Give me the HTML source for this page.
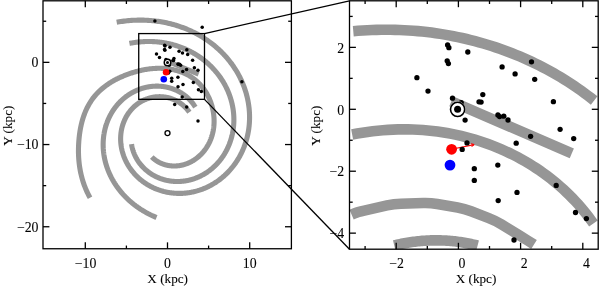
<!DOCTYPE html>
<html><head><meta charset="utf-8"><title>Spiral arms</title>
<style>html,body{margin:0;padding:0;background:#fff}svg{display:block}</style></head>
<body>
<svg width="600" height="286" viewBox="0 0 600 286">
<rect width="600" height="286" fill="#fff"/>
<defs><clipPath id="cl"><rect x="43.00" y="0.80" width="248.40" height="247.95"/></clipPath>
<clipPath id="cr"><rect x="349.50" y="0.80" width="248.70" height="248.40"/></clipPath></defs>
<g clip-path="url(#cl)" fill="none" stroke="#969696" stroke-width="5.10">
<path d="M131.54 144.18 L131.54 144.18 L131.59 144.49 L131.64 144.79 L131.69 145.10 L131.74 145.40 L131.80 145.71 L131.86 146.01 L131.92 146.32 L131.98 146.62 L132.05 146.93 L132.12 147.23 L132.19 147.54 L132.26 147.84 L132.34 148.15 L132.42 148.45 L132.50 148.76 L132.58 149.06 L132.67 149.37 L132.76 149.67 L132.85 149.97 L132.94 150.28 L133.04 150.58 L133.13 150.88 L133.23 151.19 L133.34 151.49 L133.44 151.79 L133.55 152.09 L133.66 152.39 L133.77 152.69 L133.89 152.99 L134.01 153.29 L134.13 153.59 L134.25 153.89 L134.38 154.19 L134.50 154.49 L134.64 154.79 L134.77 155.08 L134.90 155.38 L135.04 155.67 L135.18 155.97 L135.32 156.26 L135.47 156.56 L135.62 156.85 L135.77 157.14 L135.92 157.44 L136.08 157.73 L136.24 158.02 L136.40 158.31 L136.56 158.60 L136.72 158.88 L136.89 159.17 L137.06 159.46 L137.24 159.74 L137.41 160.03 L137.59 160.31 L137.77 160.59 L137.95 160.87 L138.14 161.15 L138.32 161.43 L138.51 161.71 L138.71 161.99 L138.90 162.27 L139.10 162.54 L139.30 162.82 L139.50 163.09 L139.71 163.36 L139.92 163.63 L140.13 163.90 L140.34 164.17 L140.55 164.44 L140.77 164.70 L140.99 164.97 L141.21 165.23 L141.44 165.49 L141.66 165.75 L141.89 166.01 L142.12 166.27 L142.36 166.53 L142.59 166.78 L142.83 167.04 L143.07 167.29 L143.32 167.54 L143.56 167.79 L143.81 168.04 L144.06 168.28 L144.32 168.53 L144.57 168.77 L144.83 169.01 L145.09 169.25 L145.35 169.49 L145.62 169.72 L145.88 169.96 L146.15 170.19 L146.42 170.42 L146.70 170.65 L146.97 170.88 L147.25 171.10 L147.53 171.33 L147.81 171.55 L148.10 171.77 L148.38 171.99 L148.67 172.20 L148.97 172.42 L149.26 172.63 L149.55 172.84 L149.85 173.05 L150.15 173.26 L150.45 173.46 L150.76 173.66 L151.06 173.86 L151.37 174.06 L151.68 174.26 L152.00 174.45 L152.31 174.64 L152.63 174.83 L152.94 175.02 L153.27 175.20 L153.59 175.38 L153.91 175.56 L154.24 175.74 L154.57 175.92 L154.90 176.09 L155.23 176.26 L155.56 176.43 L155.90 176.60 L156.24 176.76 L156.58 176.92 L156.92 177.08 L157.26 177.24 L157.61 177.39 L157.95 177.54 L158.30 177.69 L158.65 177.84 L159.00 177.98 L159.36 178.12 L159.71 178.26 L160.07 178.40 L160.43 178.53 L160.79 178.66 L161.15 178.79 L161.52 178.92 L161.88 179.04 L162.25 179.16 L162.62 179.27 L162.99 179.39 L163.36 179.50 L163.73 179.61 L164.11 179.71 L164.48 179.82 L164.86 179.92 L165.24 180.01 L165.62 180.11 L166.00 180.20 L166.38 180.29 L166.77 180.37 L167.15 180.46 L167.54 180.54 L167.93 180.61 L168.32 180.69 L168.71 180.76 L169.10 180.82 L169.49 180.89 L169.89 180.95 L170.28 181.01 L170.68 181.06 L171.07 181.11 L171.47 181.16 L171.87 181.21 L172.27 181.25 L172.67 181.29 L173.07 181.33 L173.48 181.36 L173.88 181.39 L174.29 181.42 L174.69 181.44 L175.10 181.46 L175.51 181.48 L175.91 181.49 L176.32 181.50 L176.73 181.51 L177.14 181.51 L177.55 181.51 L177.97 181.51 L178.38 181.50 L178.79 181.49 L179.20 181.48 L179.62 181.46 L180.03 181.44 L180.45 181.42 L180.86 181.39 L181.28 181.36 L181.69 181.32 L182.11 181.29 L182.53 181.25 L182.94 181.20 L183.36 181.15 L183.78 181.10 L184.20 181.05 L184.61 180.99 L185.03 180.93 L185.45 180.86 L185.87 180.79 L186.29 180.72 L186.71 180.65 L187.12 180.57 L187.54 180.48 L187.96 180.40 L188.38 180.31 L188.80 180.21 L189.21 180.12 L189.63 180.01 L190.05 179.91 L190.47 179.80 L190.88 179.69 L191.30 179.58 L191.72 179.46 L192.13 179.33 L192.55 179.21 L192.97 179.08 L193.38 178.95 L193.79 178.81 L194.21 178.67 L194.62 178.52 L195.03 178.38 L195.45 178.23 L195.86 178.07 L196.27 177.91 L196.68 177.75 L197.09 177.59 L197.50 177.42 L197.91 177.24 L198.31 177.07 L198.72 176.89 L199.13 176.70 L199.53 176.52 L199.93 176.33 L200.34 176.13 L200.74 175.93 L201.14 175.73 L201.54 175.53 L201.94 175.32 L202.34 175.11 L202.73 174.89 L203.13 174.67 L203.52 174.45 L203.91 174.22 L204.31 173.99 L204.70 173.76 L205.08 173.52 L205.47 173.28 L205.86 173.04 L206.24 172.79 L206.63 172.54 L207.01 172.29 L207.39 172.03 L207.77 171.77 L208.14 171.51 L208.52 171.24 L208.89 170.97 L209.27 170.69 L209.64 170.41 L210.01 170.13 L210.37 169.85 L210.74 169.56 L211.10 169.26 L211.46 168.97 L211.82 168.67 L212.18 168.37 L212.54 168.06 L212.89 167.75 L213.24 167.44 L213.59 167.13 L213.94 166.81 L214.29 166.49 L214.63 166.16 L214.97 165.83 L215.31 165.50 L215.65 165.17 L215.99 164.83 L216.32 164.49 L216.65 164.14 L216.98 163.79 L217.30 163.44 L217.63 163.09 L217.95 162.73 L218.27 162.37 L218.58 162.01 L218.90 161.64 L219.21 161.27 L219.52 160.90 L219.82 160.52 L220.13 160.15 L220.43 159.76 L220.73 159.38 L221.02 158.99 L221.32 158.60 L221.61 158.21 L221.90 157.81 L222.18 157.41 L222.46 157.01 L222.74 156.60 L223.02 156.20 L223.29 155.79 L223.56 155.37 L223.83 154.96 L224.09 154.54 L224.36 154.12 L224.61 153.69 L224.87 153.26 L225.12 152.83 L225.37 152.40 L225.62 151.97 L225.86 151.53 L226.10 151.09 L226.34 150.64 L226.57 150.20 L226.80 149.75 L227.03 149.30 L227.25 148.85 L227.47 148.39 L227.69 147.93 L227.91 147.47 L228.12 147.01 L228.32 146.55 L228.53 146.08 L228.73 145.61 L228.92 145.14 L229.12 144.66 L229.31 144.19 L229.49 143.71 L229.67 143.23 L229.85 142.74 L230.03 142.26 L230.20 141.77 L230.37 141.28 L230.53 140.79 L230.69 140.30 L230.85 139.80 L231.00 139.30 L231.15 138.80 L231.30 138.30 L231.44 137.80 L231.58 137.29 L231.71 136.79 L231.85 136.28 L231.97 135.77 L232.09 135.26 L232.21 134.74 L232.33 134.23 L232.44 133.71 L232.55 133.19 L232.65 132.67 L232.75 132.15 L232.84 131.62 L232.93 131.10 L233.02 130.57 L233.10 130.04 L233.18 129.51 L233.26 128.98 L233.33 128.45 L233.39 127.91 L233.46 127.38 L233.51 126.84 L233.57 126.30 L233.62 125.76 L233.66 125.22 L233.70 124.68 L233.74 124.14 L233.77 123.60 L233.80 123.05 L233.83 122.51 L233.85 121.96 L233.86 121.41 L233.87 120.86 L233.88 120.31 L233.88 119.76 L233.88 119.21 L233.87 118.66 L233.86 118.11 L233.85 117.55 L233.83 117.00 L233.80 116.44 L233.78 115.89 L233.74 115.33 L233.71 114.78 L233.66 114.22 L233.62 113.66 L233.57 113.10 L233.51 112.54 L233.45 111.98 L233.39 111.42 L233.32 110.86 L233.25 110.30 L233.17 109.74 L233.09 109.18 L233.00 108.62 L232.91 108.06 L232.81 107.50 L232.71 106.94 L232.61 106.38 L232.50 105.81 L232.38 105.25 L232.26 104.69 L232.14 104.13 L232.01 103.57 L231.88 103.01 L231.74 102.45 L231.60 101.89 L231.45 101.33 L231.30 100.77 L231.14 100.21 L230.98 99.65 L230.82 99.09 L230.65 98.53 L230.47 97.97 L230.29 97.42 L230.11 96.86 L229.92 96.30 L229.72 95.75 L229.53 95.19 L229.32 94.64 L229.12 94.08 L228.90 93.53 L228.69 92.98 L228.46 92.43 L228.24 91.88 L228.01 91.33 L227.77 90.78 L227.53 90.23 L227.28 89.69 L227.03 89.14 L226.78 88.60 L226.52 88.06 L226.26 87.51 L225.99 86.97 L225.71 86.44 L225.44 85.90 L225.15 85.36 L224.86 84.83 L224.57 84.29 L224.28 83.76 L223.97 83.23 L223.67 82.70 L223.36 82.18 L223.04 81.65 L222.72 81.13 L222.40 80.60 L222.07 80.08 L221.73 79.56 L221.39 79.05 L221.05 78.53 L220.70 78.02 L220.35 77.51 L219.99 77.00 L219.63 76.49 L219.26 75.99 L218.89 75.48 L218.52 74.98 L218.14 74.49 L217.75 73.99 L217.36 73.49 L216.97 73.00 L216.57 72.51 L216.17 72.03 L215.76 71.54 L215.35 71.06 L214.93 70.58 L214.51 70.10 L214.09 69.63 L213.66 69.16 L213.22 68.69 L212.78 68.22 L212.34 67.76 L211.89 67.30 L211.44 66.84 L210.99 66.38 L210.52 65.93 L210.06 65.48 L209.59 65.03 L209.12 64.59 L208.64 64.15 L208.16 63.71 L207.67 63.28 L207.18 62.85 L206.69 62.42 L206.19 61.99 L205.69 61.57 L205.18 61.16 L204.67 60.74 L204.15 60.33 L203.63 59.92 L203.11 59.52 L202.58 59.12 L202.05 58.72 L201.52 58.32 L200.98 57.93 L200.43 57.55 L199.89 57.17 L199.34 56.79 L198.78 56.41 L198.22 56.04 L197.66 55.67 L197.09 55.31 L196.52 54.95 L195.95 54.59 L195.37 54.24 L194.79 53.89 L194.20 53.55 L193.61 53.21 L193.02 52.87 L192.42 52.54 L191.82 52.21 L191.22 51.89 L190.61 51.57 L190.00 51.26 L189.39 50.95 L188.77 50.64 L188.15 50.34 L187.53 50.04 L186.90 49.75 L186.27 49.46 L185.63 49.18 L184.99 48.90 L184.35 48.63 L183.71 48.36 L183.06 48.09 L182.41 47.83 L181.76 47.58 L181.10 47.33 L180.44 47.08 L179.78 46.84 L179.11 46.61 L178.44 46.37 L177.77 46.15 L177.10 45.93 L176.42 45.71 L175.74 45.50 L175.06 45.29 L174.37 45.09 L173.68 44.90 L172.99 44.71 L172.30 44.52 L171.60 44.34 L170.90 44.17 L170.20 44.00 L169.50 43.83 L168.79 43.67 L168.08 43.52 L167.37 43.37 L166.66 43.23 L165.94 43.09 L165.22 42.96 L164.50 42.83 L163.78 42.71 L163.06 42.59 L162.33 42.49 L161.60 42.38 L160.87 42.28 L160.14 42.19 L159.40 42.10 L158.67 42.02 L157.93 41.94 L157.19 41.87 L156.44 41.81 L155.70 41.75 L154.95 41.70 L154.21 41.65 L153.46 41.61 L152.71 41.58 L151.96 41.55 L151.20 41.52 L150.45 41.51 L149.69 41.50 L148.93 41.49 L148.18 41.49 L147.42 41.50 L146.65 41.51 L145.89 41.53 L145.13 41.56 L144.36 41.59 L143.60 41.62 L142.83 41.67 L142.06 41.72 L141.30 41.77 L140.53 41.84 L139.76 41.90 L138.99 41.98 L138.21 42.06 L137.44 42.15 L136.67 42.24 L135.90 42.34 L135.12 42.45 L134.35 42.56 L133.58 42.68 L132.80 42.80 L132.03 42.93 L131.25 43.07 L130.48 43.22 L129.70 43.37 L129.44 43.42"/>
<path d="M189.32 112.16 L189.32 112.16 L189.10 111.85 L188.88 111.54 L188.66 111.24 L188.43 110.93 L188.20 110.63 L187.96 110.33 L187.72 110.04 L187.48 109.74 L187.23 109.45 L186.98 109.15 L186.72 108.86 L186.47 108.58 L186.20 108.29 L185.94 108.01 L185.67 107.73 L185.40 107.45 L185.12 107.17 L184.84 106.90 L184.56 106.63 L184.27 106.36 L183.98 106.09 L183.69 105.82 L183.39 105.56 L183.09 105.30 L182.78 105.05 L182.47 104.79 L182.16 104.54 L181.84 104.29 L181.52 104.05 L181.20 103.80 L180.87 103.57 L180.54 103.33 L180.21 103.10 L179.87 102.87 L179.53 102.64 L179.19 102.41 L178.84 102.19 L178.49 101.98 L178.13 101.76 L177.77 101.55 L177.41 101.35 L177.05 101.14 L176.68 100.95 L176.31 100.75 L175.93 100.56 L175.55 100.37 L175.17 100.19 L174.79 100.01 L174.40 99.83 L174.01 99.66 L173.61 99.49 L173.22 99.33 L172.82 99.17 L172.41 99.01 L172.01 98.86 L171.60 98.72 L171.18 98.58 L170.77 98.44 L170.35 98.31 L169.93 98.18 L169.51 98.06 L169.08 97.94 L168.65 97.83 L168.22 97.72 L167.79 97.61 L167.35 97.52 L166.91 97.42 L166.47 97.33 L166.03 97.25 L165.58 97.17 L165.13 97.10 L164.68 97.03 L164.23 96.97 L163.77 96.92 L163.32 96.87 L162.86 96.82 L162.40 96.78 L161.94 96.75 L161.47 96.72 L161.01 96.70 L160.54 96.68 L160.07 96.67 L159.60 96.67 L159.13 96.67 L158.66 96.68 L158.19 96.69 L157.71 96.71 L157.24 96.74 L156.76 96.77 L156.29 96.81 L155.81 96.86 L155.33 96.91 L154.85 96.97 L154.37 97.03 L153.89 97.10 L153.41 97.18 L152.93 97.26 L152.45 97.35 L151.97 97.45 L151.49 97.56 L151.01 97.67 L150.53 97.78 L150.05 97.91 L149.57 98.04 L149.09 98.17 L148.61 98.32 L148.13 98.47 L147.66 98.63 L147.18 98.79 L146.71 98.96 L146.23 99.14 L145.76 99.33 L145.29 99.52 L144.82 99.72 L144.36 99.92 L143.89 100.13 L143.43 100.35 L142.97 100.58 L142.51 100.81 L142.05 101.05 L141.60 101.30 L141.14 101.55 L140.69 101.81 L140.25 102.08 L139.80 102.36 L139.36 102.64 L138.93 102.93 L138.49 103.22 L138.06 103.52 L137.63 103.83 L137.21 104.14 L136.78 104.46 L136.37 104.79 L135.95 105.12 L135.54 105.46 L135.13 105.81 L134.73 106.16 L134.33 106.52 L133.94 106.88 L133.55 107.26 L133.16 107.63 L132.78 108.01 L132.40 108.40 L132.03 108.80 L131.66 109.20 L131.30 109.60 L130.94 110.02 L130.59 110.43 L130.24 110.86 L129.90 111.28 L129.56 111.72 L129.23 112.16 L128.90 112.60 L128.58 113.05 L128.26 113.51 L127.95 113.97 L127.65 114.43 L127.35 114.90 L127.05 115.37 L126.76 115.85 L126.48 116.34 L126.21 116.83 L125.94 117.32 L125.67 117.82 L125.41 118.32 L125.16 118.82 L124.92 119.33 L124.68 119.85 L124.44 120.37 L124.22 120.89 L124.00 121.42 L123.78 121.95 L123.58 122.48 L123.38 123.02 L123.18 123.56 L123.00 124.10 L122.81 124.65 L122.64 125.20 L122.47 125.75 L122.32 126.31 L122.16 126.87 L122.02 127.43 L121.88 128.00 L121.75 128.57 L121.62 129.14 L121.51 129.71 L121.40 130.29 L121.29 130.87 L121.20 131.45 L121.11 132.03 L121.03 132.62 L120.95 133.21 L120.89 133.80 L120.83 134.39 L120.78 134.98 L120.73 135.57 L120.70 136.17 L120.67 136.77 L120.64 137.37 L120.63 137.97 L120.62 138.57 L120.62 139.17 L120.63 139.77 L120.65 140.38 L120.67 140.98 L120.70 141.59 L120.74 142.20 L120.79 142.80 L120.84 143.41 L120.91 144.02 L120.98 144.63 L121.05 145.23 L121.14 145.84 L121.23 146.45 L121.33 147.06 L121.44 147.67 L121.55 148.28 L121.68 148.88 L121.81 149.49 L121.95 150.10 L122.09 150.70 L122.25 151.31 L122.41 151.91 L122.58 152.52 L122.75 153.12 L122.94 153.72 L123.13 154.32 L123.33 154.92 L123.54 155.52 L123.75 156.12 L123.98 156.71 L124.21 157.31 L124.45 157.90 L124.69 158.49 L124.94 159.08 L125.20 159.67 L125.47 160.25 L125.75 160.83 L126.03 161.41 L126.32 161.99 L126.62 162.57 L126.93 163.14 L127.24 163.71 L127.56 164.28 L127.89 164.85 L128.22 165.41 L128.57 165.97 L128.92 166.53 L129.27 167.08 L129.64 167.63 L130.01 168.18 L130.39 168.73 L130.78 169.27 L131.17 169.81 L131.57 170.34 L131.98 170.87 L132.40 171.40 L132.82 171.92 L133.25 172.44 L133.69 172.96 L134.13 173.47 L134.58 173.97 L135.04 174.48 L135.51 174.97 L135.98 175.47 L136.46 175.96 L136.95 176.44 L137.44 176.92 L137.94 177.39 L138.45 177.86 L138.97 178.33 L139.49 178.79 L140.01 179.24 L140.55 179.69 L141.09 180.13 L141.64 180.57 L142.19 181.00 L142.75 181.43 L143.32 181.85 L143.89 182.26 L144.47 182.67 L145.06 183.07 L145.65 183.46 L146.25 183.85 L146.86 184.24 L147.47 184.61 L148.09 184.98 L148.71 185.35 L149.34 185.70 L149.97 186.05 L150.61 186.39 L151.26 186.73 L151.91 187.06 L152.57 187.38 L153.23 187.69 L153.90 188.00 L154.57 188.30 L155.25 188.59 L155.94 188.87 L156.62 189.15 L157.32 189.41 L158.02 189.67 L158.72 189.93 L159.43 190.17 L160.14 190.40 L160.86 190.63 L161.58 190.85 L162.31 191.06 L163.04 191.26 L163.78 191.46 L164.52 191.64 L165.26 191.82 L166.01 191.98 L166.76 192.14 L167.51 192.29 L168.27 192.43 L169.03 192.56 L169.80 192.68 L170.57 192.80 L171.34 192.90 L172.12 192.99 L172.90 193.08 L173.68 193.15 L174.46 193.22 L175.25 193.27 L176.04 193.32 L176.83 193.35 L177.62 193.38 L178.42 193.40 L179.22 193.40 L180.02 193.40 L180.82 193.38 L181.62 193.36 L182.43 193.33 L183.24 193.28 L184.05 193.23 L184.85 193.16 L185.67 193.09 L186.48 193.00 L187.29 192.90 L188.10 192.80 L188.92 192.68 L189.73 192.55 L190.54 192.41 L191.36 192.26 L192.17 192.10 L192.99 191.93 L193.80 191.75 L194.62 191.56 L195.43 191.36 L196.24 191.14 L197.05 190.92 L197.86 190.68 L198.67 190.43 L199.48 190.18 L200.29 189.91 L201.09 189.63 L201.90 189.34 L202.70 189.04 L203.50 188.73 L204.30 188.40 L205.09 188.07 L205.88 187.72 L206.68 187.37 L207.46 187.00 L208.25 186.62 L209.03 186.24 L209.81 185.84 L210.58 185.43 L211.35 185.00 L212.12 184.57 L212.89 184.13 L213.65 183.68 L214.40 183.21 L215.15 182.74 L215.90 182.25 L216.64 181.75 L217.38 181.25 L218.12 180.73 L218.84 180.20 L219.57 179.66 L220.29 179.11 L221.00 178.55 L221.71 177.98 L222.41 177.40 L223.10 176.81 L223.79 176.21 L224.48 175.60 L225.15 174.98 L225.82 174.35 L226.49 173.71 L227.15 173.06 L227.80 172.40 L228.44 171.73 L229.08 171.05 L229.71 170.36 L230.33 169.66 L230.95 168.95 L231.55 168.23 L232.15 167.50 L232.74 166.76 L233.33 166.02 L233.90 165.26 L234.47 164.50 L235.03 163.73 L235.58 162.94 L236.12 162.15 L236.65 161.35 L237.17 160.55 L237.69 159.73 L238.19 158.90 L238.69 158.07 L239.17 157.23 L239.65 156.38 L240.12 155.52 L240.57 154.66 L241.02 153.79 L241.46 152.91 L241.88 152.02 L242.30 151.12 L242.70 150.22 L243.10 149.31 L243.48 148.39 L243.86 147.47 L244.22 146.54 L244.57 145.60 L244.91 144.66 L245.24 143.71 L245.56 142.75 L245.87 141.79 L246.16 140.82 L246.45 139.85 L246.72 138.87 L246.98 137.88 L247.23 136.89 L247.46 135.90 L247.69 134.89 L247.90 133.89 L248.10 132.87 L248.28 131.86 L248.46 130.84 L248.62 129.81 L248.77 128.78 L248.91 127.75 L249.03 126.71 L249.14 125.67 L249.24 124.62 L249.33 123.57 L249.40 122.52 L249.46 121.47 L249.50 120.41 L249.54 119.34 L249.56 118.28 L249.56 117.21 L249.55 116.14 L249.53 115.07 L249.50 114.00 L249.45 112.92 L249.39 111.84 L249.31 110.76 L249.22 109.68 L249.12 108.60 L249.00 107.52 L248.87 106.43 L248.73 105.35 L248.57 104.26 L248.39 103.18 L248.21 102.09 L248.00 101.01 L247.79 99.92 L247.56 98.83 L247.31 97.75 L247.06 96.66 L246.78 95.58 L246.50 94.50 L246.20 93.42 L245.88 92.34 L245.55 91.26 L245.21 90.18 L244.85 89.11 L244.48 88.03 L244.09 86.96 L243.69 85.90 L243.27 84.83 L242.84 83.77 L242.40 82.71 L241.94 81.65 L241.47 80.60 L240.98 79.55 L240.48 78.50 L239.97 77.46 L239.44 76.42 L238.89 75.39 L238.34 74.36 L237.77 73.34 L237.18 72.32 L236.58 71.30 L235.97 70.29 L235.34 69.29 L234.70 68.29 L234.04 67.29 L233.37 66.31 L232.69 65.33 L231.99 64.35 L231.28 63.38 L230.56 62.42 L229.82 61.46 L229.07 60.51 L228.31 59.57 L227.53 58.64 L226.74 57.71 L225.93 56.79 L225.12 55.88 L224.29 54.97 L223.44 54.07 L222.59 53.19 L221.72 52.31 L220.83 51.43 L219.94 50.57 L219.03 49.72 L218.11 48.87 L217.18 48.04 L216.23 47.21 L215.27 46.39 L214.30 45.58 L213.32 44.79 L212.32 44.00 L211.32 43.22 L210.30 42.45 L209.27 41.70 L208.23 40.95 L207.17 40.21 L206.11 39.49 L205.03 38.77 L203.94 38.07 L202.84 37.38 L201.73 36.70 L200.61 36.03 L199.47 35.37 L198.33 34.73 L197.18 34.09 L196.01 33.47 L194.84 32.86 L193.65 32.27 L192.45 31.69 L191.25 31.11 L190.03 30.56 L188.80 30.01 L187.57 29.48 L186.32 28.96 L185.06 28.46 L183.80 27.96 L182.52 27.49 L181.24 27.02 L179.95 26.57 L178.65 26.14 L177.34 25.71 L176.02 25.31 L174.69 24.91 L173.35 24.53 L172.01 24.17 L170.65 23.82 L169.29 23.49 L167.92 23.17 L166.55 22.86 L165.16 22.57 L163.77 22.30 L162.37 22.04 L160.96 21.80 L159.55 21.57 L158.13 21.36 L156.70 21.17 L155.27 20.99 L153.83 20.83 L152.38 20.68 L150.93 20.55 L149.47 20.44 L148.00 20.34 L146.53 20.26 L145.06 20.20 L143.58 20.15 L142.09 20.12 L140.60 20.11 L139.10 20.12 L137.60 20.14 L136.09 20.18 L134.58 20.24 L133.06 20.32 L131.54 20.41 L130.02 20.52 L128.49 20.65 L126.96 20.80 L125.43 20.96 L123.89 21.15 L122.35 21.35 L120.80 21.57 L119.26 21.81 L117.71 22.06 L116.68 22.24"/>
<path d="M195.34 107.06 L195.34 107.06 L195.21 106.85 L195.09 106.64 L194.95 106.43 L194.82 106.23 L194.69 106.02 L194.55 105.81 L194.42 105.60 L194.28 105.40 L194.14 105.19 L194.00 104.99 L193.86 104.78 L193.71 104.58 L193.57 104.38 L193.42 104.17 L193.27 103.97 L193.12 103.77 L192.97 103.57 L192.82 103.37 L192.67 103.17 L192.51 102.97 L192.35 102.77 L192.20 102.58 L192.04 102.38 L191.88 102.18 L191.71 101.99 L191.55 101.79 L191.38 101.60 L191.22 101.41 L191.05 101.22 L190.88 101.02 L190.71 100.83 L190.54 100.64 L190.37 100.45 L190.19 100.26 L190.02 100.08 L189.84 99.89 L189.66 99.70 L189.48 99.52 L189.30 99.33 L189.11 99.15 L188.93 98.97 L188.74 98.79 L188.56 98.61 L188.37 98.43 L188.18 98.25 L187.99 98.07 L187.79 97.89 L187.60 97.71 L187.41 97.54 L187.21 97.36 L187.01 97.19 L186.81 97.02 L186.61 96.85 L186.41 96.68 L186.21 96.51 L186.00 96.34 L185.80 96.17 L185.59 96.00 L185.38 95.84 L185.17 95.67 L184.96 95.51 L184.75 95.35 L184.53 95.19 L184.32 95.03 L184.10 94.87 L183.88 94.71 L183.66 94.55 L183.44 94.40 L183.22 94.24 L183.00 94.09 L182.78 93.94 L182.55 93.79 L182.32 93.64 L182.10 93.49 L181.87 93.34 L181.64 93.19 L181.40 93.05 L181.17 92.90 L180.94 92.76 L180.70 92.62 L180.47 92.48 L180.23 92.34 L179.99 92.20 L179.75 92.07 L179.51 91.93 L179.27 91.80 L179.02 91.66 L178.78 91.53 L178.53 91.40 L178.28 91.28 L178.04 91.15 L177.79 91.02 L177.53 90.90 L177.28 90.77 L177.03 90.65 L176.78 90.53 L176.52 90.41 L176.26 90.30 L176.01 90.18 L175.75 90.07 L175.49 89.95 L175.23 89.84 L174.97 89.73 L174.70 89.62 L174.44 89.52 L174.18 89.41 L173.91 89.31 L173.64 89.20 L173.37 89.10 L173.10 89.00 L172.83 88.90 L172.56 88.81 L172.29 88.71 L172.02 88.62 L171.74 88.53 L171.47 88.44 L171.19 88.35 L170.92 88.26 L170.64 88.18 L170.36 88.09 L170.08 88.01 L169.80 87.93 L169.52 87.85 L169.23 87.77 L168.95 87.70 L168.67 87.62 L168.38 87.55 L168.09 87.48 L167.81 87.41 L167.52 87.35 L167.23 87.28 L166.94 87.22 L166.65 87.15 L166.36 87.09 L166.07 87.04 L165.77 86.98 L165.48 86.93 L165.18 86.87 L164.89 86.82 L164.59 86.77 L164.30 86.72 L164.00 86.68 L163.70 86.63 L163.40 86.59 L163.10 86.55 L162.80 86.51 L162.50 86.48 L162.20 86.44 L161.90 86.41 L161.59 86.38 L161.29 86.35 L160.99 86.32 L160.68 86.30 L160.37 86.27 L160.07 86.25 L159.76 86.23 L159.45 86.21 L159.15 86.20 L158.84 86.19 L158.53 86.17 L158.22 86.16 L157.91 86.16 L157.60 86.15 L157.29 86.15 L156.98 86.14 L156.66 86.14 L156.35 86.15 L156.04 86.15 L155.72 86.16 L155.41 86.16 L155.10 86.18 L154.78 86.19 L154.47 86.20 L154.15 86.22 L153.84 86.24 L153.52 86.26 L153.20 86.28 L152.89 86.30 L152.57 86.33 L152.25 86.36 L151.94 86.39 L151.62 86.42 L151.30 86.46 L150.98 86.50 L150.66 86.53 L150.34 86.58 L150.02 86.62 L149.71 86.67 L149.39 86.71 L149.07 86.76 L148.75 86.81 L148.43 86.87 L148.11 86.93 L147.79 86.98 L147.47 87.04 L147.15 87.11 L146.83 87.17 L146.51 87.24 L146.19 87.31 L145.87 87.38 L145.55 87.45 L145.23 87.53 L144.91 87.61 L144.59 87.69 L144.27 87.77 L143.95 87.86 L143.63 87.94 L143.31 88.03 L142.99 88.12 L142.67 88.22 L142.35 88.31 L142.03 88.41 L141.71 88.51 L141.39 88.61 L141.07 88.72 L140.75 88.83 L140.43 88.93 L140.12 89.05 L139.80 89.16 L139.48 89.28 L139.16 89.39 L138.85 89.51 L138.53 89.64 L138.22 89.76 L137.90 89.89 L137.59 90.02 L137.27 90.15 L136.96 90.28 L136.64 90.42 L136.33 90.56 L136.02 90.70 L135.70 90.84 L135.39 90.99 L135.08 91.14 L134.77 91.29 L134.46 91.44 L134.15 91.59 L133.84 91.75 L133.53 91.91 L133.22 92.07 L132.91 92.23 L132.61 92.40 L132.30 92.56 L132.00 92.73 L131.69 92.91 L131.39 93.08 L131.08 93.26 L130.78 93.44 L130.48 93.62 L130.18 93.80 L129.88 93.99 L129.58 94.18 L129.28 94.37 L128.98 94.56 L128.69 94.75 L128.39 94.95 L128.10 95.15 L127.80 95.35 L127.51 95.56 L127.22 95.76 L126.93 95.97 L126.64 96.18 L126.35 96.39 L126.06 96.61 L125.77 96.83 L125.49 97.04 L125.20 97.27 L124.92 97.49 L124.64 97.72 L124.35 97.94 L124.07 98.17 L123.79 98.41 L123.52 98.64 L123.24 98.88 L122.96 99.12 L122.69 99.36 L122.42 99.60 L122.14 99.85 L121.87 100.09 L121.60 100.34 L121.34 100.60 L121.07 100.85 L120.80 101.11 L120.54 101.36 L120.28 101.62 L120.02 101.89 L119.76 102.15 L119.50 102.42 L119.24 102.69 L118.99 102.96 L118.73 103.23 L118.48 103.50 L118.23 103.78 L117.98 104.06 L117.73 104.34 L117.49 104.62 L117.24 104.91 L117.00 105.20 L116.76 105.49 L116.52 105.78 L116.28 106.07 L116.05 106.37 L115.81 106.66 L115.58 106.96 L115.35 107.26 L115.12 107.57 L114.89 107.87 L114.67 108.18 L114.44 108.49 L114.22 108.80 L114.00 109.11 L113.78 109.42 L113.57 109.74 L113.35 110.06 L113.14 110.38 L112.93 110.70 L112.72 111.02 L112.51 111.35 L112.31 111.67 L112.10 112.00 L111.90 112.33 L111.70 112.66 L111.50 113.00 L111.31 113.33 L111.12 113.67 L110.92 114.01 L110.74 114.35 L110.55 114.70 L110.36 115.04 L110.18 115.39 L110.00 115.73 L109.82 116.08 L109.64 116.43 L109.47 116.79 L109.30 117.14 L109.13 117.49 L108.96 117.85 L108.79 118.21 L108.63 118.57 L108.47 118.93 L108.31 119.30 L108.15 119.66 L107.99 120.03 L107.84 120.39 L107.69 120.76 L107.54 121.13 L107.40 121.51 L107.25 121.88 L107.11 122.26 L106.97 122.63 L106.84 123.01 L106.70 123.39 L106.57 123.77 L106.44 124.15 L106.31 124.53 L106.19 124.92 L106.06 125.30 L105.94 125.69 L105.83 126.08 L105.71 126.47 L105.60 126.86 L105.49 127.25 L105.38 127.64 L105.27 128.04 L105.17 128.43 L105.07 128.83 L104.97 129.23 L104.87 129.62 L104.78 130.02 L104.69 130.43 L104.60 130.83 L104.52 131.23 L104.43 131.64 L104.35 132.04 L104.27 132.45 L104.20 132.85 L104.12 133.26 L104.05 133.67 L103.99 134.08 L103.92 134.49 L103.86 134.90 L103.80 135.32 L103.74 135.73 L103.68 136.15 L103.63 136.56 L103.58 136.98 L103.54 137.39 L103.49 137.81 L103.45 138.23 L103.41 138.65 L103.37 139.07 L103.34 139.49 L103.31 139.91 L103.28 140.34 L103.25 140.76 L103.23 141.18 L103.21 141.61 L103.19 142.03 L103.18 142.46 L103.17 142.88 L103.16 143.31 L103.15 143.74 L103.15 144.17 L103.14 144.60 L103.15 145.02 L103.15 145.45 L103.16 145.88 L103.17 146.32 L103.18 146.75 L103.20 147.18 L103.21 147.61 L103.23 148.04 L103.26 148.48 L103.28 148.91 L103.31 149.34 L103.35 149.78 L103.38 150.21 L103.42 150.65 L103.46 151.08 L103.50 151.52 L103.55 151.95 L103.60 152.39 L103.65 152.82 L103.70 153.26 L103.76 153.69 L103.82 154.13 L103.88 154.57 L103.95 155.00 L104.02 155.44 L104.09 155.88 L104.17 156.32 L104.24 156.75 L104.32 157.19 L104.41 157.63 L104.49 158.06 L104.58 158.50 L104.67 158.94 L104.77 159.38 L104.87 159.81 L104.97 160.25 L105.07 160.69 L105.17 161.12 L105.28 161.56 L105.40 162.00 L105.51 162.43 L105.63 162.87 L105.75 163.31 L105.87 163.74 L106.00 164.18 L106.13 164.61 L106.26 165.05 L106.39 165.48 L106.53 165.92 L106.67 166.35 L106.82 166.79 L106.96 167.22 L107.11 167.65 L107.27 168.09 L107.42 168.52 L107.58 168.95 L107.74 169.38 L107.90 169.82 L108.07 170.25 L108.24 170.68 L108.41 171.11 L108.59 171.54 L108.77 171.97 L108.95 172.39 L109.13 172.82 L109.32 173.25 L109.51 173.68 L109.70 174.10 L109.90 174.53 L110.10 174.95 L110.30 175.38 L110.50 175.80 L110.71 176.22 L110.92 176.64 L111.13 177.07 L111.35 177.49 L111.57 177.91 L111.79 178.33 L112.01 178.74 L112.24 179.16 L112.47 179.58 L112.71 179.99 L112.94 180.41 L113.18 180.82 L113.42 181.24 L113.67 181.65 L113.91 182.06 L114.17 182.47 L114.42 182.88 L114.67 183.29 L114.93 183.69 L115.20 184.10 L115.46 184.51 L115.73 184.91 L116.00 185.31 L116.27 185.72 L116.55 186.12 L116.83 186.52 L117.11 186.92 L117.39 187.31 L117.68 187.71 L117.97 188.11 L118.26 188.50 L118.56 188.89 L118.86 189.28 L119.16 189.67 L119.46 190.06 L119.77 190.45 L120.08 190.84 L120.39 191.22 L120.71 191.61 L121.03 191.99 L121.35 192.37 L121.67 192.75 L122.00 193.13 L122.33 193.51 L122.66 193.88 L122.99 194.26 L123.33 194.63 L123.67 195.00 L124.01 195.37 L124.36 195.74 L124.71 196.11 L125.06 196.47 L125.41 196.83 L125.77 197.20 L126.13 197.56 L126.49 197.92 L126.85 198.27 L127.22 198.63 L127.59 198.98 L127.96 199.33 L128.34 199.69 L128.72 200.03 L129.10 200.38 L129.48 200.73 L129.87 201.07 L130.26 201.41 L130.65 201.75 L131.04 202.09 L131.44 202.43 L131.84 202.76 L132.24 203.10 L132.64 203.43 L133.05 203.76 L133.46 204.08 L133.87 204.41 L134.29 204.73 L134.70 205.05 L135.12 205.37 L135.55 205.69 L135.97 206.01 L136.40 206.32 L136.83 206.63 L137.26 206.94 L137.70 207.25 L138.14 207.56 L138.58 207.86 L139.02 208.16 L139.46 208.46 L139.91 208.76 L140.36 209.05 L140.82 209.35 L141.27 209.64 L141.73 209.92 L142.19 210.21 L142.65 210.50 L143.12 210.78 L143.58 211.06 L144.05 211.33 L144.53 211.61 L145.00 211.88 L145.48 212.15 L145.96 212.42 L146.44 212.69 L146.93 212.95 L147.41 213.21 L147.90 213.47 L148.39 213.73 L148.89 213.98 L149.38 214.23 L149.88 214.48 L150.38 214.73 L150.89 214.97 L151.39 215.22 L151.90 215.45 L152.41 215.69 L152.92 215.93 L153.44 216.16 L153.96 216.39 L154.48 216.61 L155.00 216.84 L155.52 217.06 L156.05 217.28 L156.58 217.49 L156.58 217.49"/>
<path d="M151.83 157.01 L151.92 157.10 L152.14 157.31 L152.35 157.52 L152.57 157.73 L152.80 157.93 L153.02 158.14 L153.25 158.34 L153.48 158.54 L153.71 158.74 L153.95 158.93 L154.18 159.13 L154.42 159.32 L154.67 159.51 L154.91 159.70 L155.16 159.88 L155.41 160.07 L155.66 160.25 L155.92 160.43 L156.18 160.60 L156.44 160.78 L156.70 160.95 L156.96 161.12 L157.23 161.28 L157.50 161.45 L157.77 161.61 L158.04 161.77 L158.32 161.93 L158.60 162.08 L158.88 162.23 L159.16 162.38 L159.45 162.53 L159.73 162.67 L160.02 162.81 L160.31 162.95 L160.61 163.09 L160.90 163.22 L161.20 163.35 L161.50 163.48 L161.80 163.60 L162.10 163.72 L162.40 163.84 L162.71 163.96 L163.02 164.07 L163.33 164.18 L163.64 164.29 L163.95 164.39 L164.27 164.49 L164.58 164.59 L164.90 164.68 L165.22 164.77 L165.54 164.86 L165.87 164.95 L166.19 165.03 L166.52 165.11 L166.84 165.18 L167.17 165.25 L167.50 165.32 L167.83 165.39 L168.17 165.45 L168.50 165.51 L168.83 165.57 L169.17 165.62 L169.51 165.67 L169.85 165.71 L170.19 165.76 L170.53 165.79 L170.87 165.83 L171.21 165.86 L171.56 165.89 L171.90 165.92 L172.25 165.94 L172.60 165.96 L172.94 165.97 L173.29 165.98 L173.64 165.99 L173.99 165.99 L174.34 165.99 L174.69 165.99 L175.04 165.98 L175.40 165.97 L175.75 165.96 L176.10 165.94 L176.46 165.92 L176.81 165.90 L177.17 165.87 L177.52 165.83 L177.88 165.80 L178.23 165.76 L178.59 165.72 L178.95 165.67 L179.30 165.62 L179.66 165.56 L180.02 165.51 L180.38 165.44 L180.73 165.38 L181.09 165.31 L181.45 165.24 L181.80 165.16 L182.16 165.08 L182.52 165.00 L182.87 164.91 L183.23 164.82 L183.59 164.72 L183.94 164.62 L184.30 164.52 L184.65 164.41 L185.01 164.30 L185.36 164.19 L185.72 164.07 L186.07 163.95 L186.42 163.82 L186.77 163.69 L187.13 163.56 L187.48 163.42 L187.83 163.28 L188.18 163.13 L188.53 162.99 L188.87 162.83 L189.22 162.68 L189.57 162.52 L189.91 162.35 L190.26 162.19 L190.60 162.02 L190.94 161.84 L191.28 161.66 L191.62 161.48 L191.96 161.29 L192.30 161.10 L192.63 160.91 L192.97 160.71 L193.30 160.51 L193.63 160.31 L193.96 160.10 L194.29 159.89 L194.62 159.67 L194.95 159.45 L195.27 159.23 L195.60 159.00 L195.92 158.77 L196.24 158.54 L196.56 158.30 L196.87 158.06 L197.19 157.82 L197.50 157.57 L197.81 157.32 L198.12 157.06 L198.43 156.80 L198.73 156.54 L199.04 156.27 L199.34 156.00 L199.64 155.73 L199.93 155.45 L200.23 155.17 L200.52 154.89 L200.81 154.60 L201.10 154.31 L201.39 154.02 L201.67 153.72 L201.95 153.42 L202.23 153.12 L202.51 152.81 L202.78 152.50 L203.06 152.19 L203.33 151.87 L203.59 151.55 L203.86 151.23 L204.12 150.90 L204.38 150.57 L204.63 150.24 L204.89 149.90 L205.14 149.56 L205.39 149.22 L205.63 148.87 L205.87 148.53 L206.11 148.17 L206.35 147.82 L206.58 147.46 L206.81 147.10 L207.04 146.74 L207.27 146.37 L207.49 146.00 L207.71 145.63 L207.92 145.25 L208.13 144.87 L208.34 144.49 L208.55 144.11 L208.75 143.72 L208.95 143.33 L209.15 142.94 L209.34 142.54 L209.53 142.15 L209.71 141.75 L209.90 141.34 L210.07 140.94 L210.25 140.53 L210.42 140.12 L210.59 139.71 L210.75 139.29 L210.92 138.87 L211.07 138.45 L211.23 138.03 L211.38 137.60 L211.52 137.17 L211.67 136.74 L211.80 136.31 L211.94 135.88 L212.07 135.44 L212.20 135.00 L212.32 134.56 L212.44 134.11 L212.56 133.67 L212.67 133.22 L212.78 132.77 L212.88 132.32 L212.98 131.86 L213.07 131.41 L213.17 130.95 L213.25 130.49 L213.34 130.03 L213.41 129.56 L213.49 129.10 L213.56 128.63 L213.63 128.16 L213.69 127.69 L213.75 127.22 L213.80 126.74 L213.85 126.27 L213.89 125.79 L213.93 125.31 L213.97 124.83 L214.00 124.35 L214.03 123.86 L214.05 123.38 L214.07 122.89 L214.08 122.41 L214.09 121.92 L214.10 121.43 L214.10 120.93 L214.09 120.44 L214.08 119.95 L214.07 119.45 L214.05 118.95 L214.03 118.46 L214.00 117.96 L213.97 117.46 L213.93 116.96 L213.89 116.46 L213.84 115.95 L213.79 115.45 L213.74 114.95 L213.68 114.44 L213.61 113.94 L213.54 113.43 L213.46 112.92 L213.38 112.42 L213.30 111.91 L213.21 111.40 L213.11 110.89 L213.01 110.38 L212.91 109.87 L212.80 109.36 L212.68 108.85 L212.56 108.33 L212.44 107.82 L212.31 107.31 L212.17 106.80 L212.03 106.29 L211.89 105.77 L211.74 105.26 L211.58 104.75 L211.42 104.23 L211.25 103.72 L211.08 103.21 L210.90 102.70 L210.72 102.19 L210.53 101.67 L210.34 101.16 L210.14 100.65 L209.94 100.14 L209.73 99.63 L209.51 99.13 L209.29 98.62 L209.06 98.11 L208.83 97.61 L208.59 97.10 L208.35 96.60 L208.09 96.10 L207.84 95.60 L207.58 95.10 L207.31 94.60 L207.03 94.10 L206.75 93.61 L206.47 93.12 L206.17 92.63 L205.88 92.14 L205.57 91.65 L205.26 91.17 L204.94 90.69 L204.62 90.21 L204.29 89.74 L203.96 89.26 L203.62 88.79 L203.27 88.33 L202.92 87.86 L202.56 87.40 L202.19 86.94 L201.82 86.49 L201.44 86.04 L201.06 85.59 L200.67 85.15 L200.27 84.71 L199.87 84.27 L199.46 83.84 L199.05 83.42 L198.63 82.99 L198.20 82.58 L197.77 82.16 L197.33 81.75 L196.89 81.35 L196.44 80.95 L195.99 80.56 L195.53 80.17 L195.06 79.79 L194.59 79.41 L194.11 79.04 L193.63 78.67 L193.14 78.31 L192.65 77.96 L192.15 77.61 L191.64 77.27 L191.13 76.94 L190.62 76.61 L190.10 76.29 L189.58 75.97 L189.05 75.66 L188.52 75.36 L187.98 75.06 L187.44 74.77 L186.89 74.49 L186.34 74.21 L185.79 73.94 L185.23 73.67 L184.67 73.42 L184.11 73.16 L183.54 72.92 L182.97 72.68 L182.39 72.45 L181.81 72.22 L181.23 72.00 L180.64 71.79 L180.06 71.58 L179.46 71.39 L178.87 71.19 L178.27 71.01 L177.67 70.83 L177.07 70.65 L176.47 70.48 L175.86 70.32 L175.25 70.17 L174.64 70.02 L174.02 69.88 L173.41 69.74 L172.79 69.61 L172.17 69.49 L171.55 69.37 L170.92 69.26 L170.30 69.16 L169.67 69.06 L169.04 68.97 L168.41 68.88 L167.78 68.80 L167.14 68.73 L166.51 68.66 L165.87 68.60 L165.23 68.54 L164.59 68.49 L163.95 68.45 L163.31 68.41 L162.67 68.38 L162.02 68.35 L161.38 68.33 L160.73 68.31 L160.08 68.30 L159.43 68.30 L158.78 68.30 L158.13 68.31 L157.48 68.32 L156.83 68.34 L156.18 68.36 L155.52 68.39 L154.87 68.43 L154.21 68.47 L153.56 68.51 L152.90 68.56 L152.24 68.62 L151.59 68.68 L150.93 68.75 L150.27 68.82 L149.61 68.90 L148.95 68.98 L148.29 69.07 L147.62 69.16 L146.96 69.26 L146.30 69.37 L145.63 69.48 L144.97 69.59 L144.31 69.71 L143.64 69.84 L142.97 69.97 L142.31 70.10 L141.64 70.25 L140.97 70.39 L140.31 70.54 L139.64 70.70 L138.97 70.86 L138.30 71.03 L137.63 71.20 L136.96 71.38 L136.29 71.56 L135.62 71.75 L134.94 71.94 L134.27 72.13 L133.60 72.34 L132.92 72.54 L132.25 72.76 L131.57 72.97 L130.89 73.20 L130.22 73.42 L129.54 73.66 L128.86 73.90 L128.18 74.14 L127.50 74.39 L126.82 74.64 L126.14 74.90 L125.45 75.16 L124.77 75.43 L124.09 75.71 L123.40 75.99 L122.72 76.27 L122.03 76.57 L121.34 76.86 L120.66 77.17 L119.97 77.48 L119.29 77.80 L118.60 78.12 L117.92 78.46 L117.23 78.79 L116.55 79.14 L115.86 79.49 L115.18 79.85 L114.50 80.22 L113.82 80.60 L113.14 80.98 L112.46 81.37 L111.79 81.77 L111.12 82.17 L110.44 82.59 L109.78 83.01 L109.11 83.44 L108.45 83.88 L107.78 84.33 L107.13 84.78 L106.47 85.25 L105.82 85.72 L105.18 86.20 L104.53 86.69 L103.89 87.19 L103.26 87.70 L102.63 88.22 L102.01 88.74 L101.39 89.28 L100.78 89.82 L100.17 90.37 L99.57 90.94 L98.97 91.51 L98.38 92.08 L97.80 92.67 L97.23 93.27 L96.66 93.88 L96.10 94.49 L95.55 95.11 L95.01 95.75 L94.47 96.39 L93.95 97.04 L93.43 97.69 L92.92 98.36 L92.43 99.04 L91.94 99.72 L91.46 100.41 L90.99 101.11 L90.53 101.81 L90.08 102.53 L89.64 103.25 L89.21 103.97 L88.79 104.71 L88.38 105.45 L87.98 106.19 L87.58 106.95 L87.20 107.71 L86.83 108.47 L86.46 109.24 L86.11 110.02 L85.76 110.80 L85.43 111.58 L85.10 112.37 L84.78 113.17 L84.47 113.97 L84.17 114.77 L83.88 115.58 L83.60 116.40 L83.32 117.21 L83.06 118.04 L82.80 118.86 L82.56 119.69 L82.32 120.52 L82.08 121.36 L81.86 122.20 L81.65 123.04 L81.44 123.89 L81.24 124.74 L81.05 125.59 L80.87 126.45 L80.69 127.31 L80.52 128.17 L80.36 129.03 L80.21 129.90 L80.06 130.77 L79.92 131.65 L79.79 132.52 L79.66 133.40 L79.54 134.28 L79.43 135.16 L79.32 136.05 L79.22 136.94 L79.13 137.83 L79.04 138.72 L78.96 139.62 L78.88 140.52 L78.81 141.42 L78.75 142.32 L78.69 143.23 L78.64 144.14 L78.59 145.05 L78.55 145.96 L78.52 146.88 L78.50 147.80 L78.48 148.72 L78.47 149.64 L78.46 150.57 L78.46 151.50 L78.47 152.43 L78.49 153.36 L78.52 154.30 L78.55 155.24 L78.59 156.18 L78.64 157.12 L78.70 158.06 L78.76 159.01 L78.84 159.95 L78.92 160.90 L79.01 161.85 L79.11 162.80 L79.22 163.76 L79.34 164.71 L79.47 165.67 L79.60 166.62 L79.75 167.58 L79.91 168.54 L80.07 169.50 L80.25 170.46 L80.43 171.42 L80.63 172.38 L80.84 173.34 L81.05 174.30 L81.28 175.26 L81.52 176.22 L81.76 177.18 L82.02 178.14 L82.29 179.10 L82.57 180.06 L82.86 181.01 L83.16 181.97 L83.48 182.92 L83.80 183.87 L84.14 184.82 L84.49 185.77 L84.85 186.72 L85.22 187.66 L85.60 188.60 L85.99 189.54 L86.40 190.47 L86.82 191.40 L87.25 192.33 L87.69 193.25 L88.14 194.17 L88.61 195.09 L89.09 196.00 L89.58 196.90 L90.02 197.70"/>
<path d="M165.6 60.5 L198.6 74.1"/>
</g>
<g clip-path="url(#cr)" fill="none" stroke="#969696" stroke-width="10.60">
<path d="M594.15 100.51 L590.99 98.03 L587.80 95.58 L584.56 93.17 L581.28 90.80 L577.97 88.46 L574.61 86.16 L571.21 83.89 L567.78 81.67 L564.31 79.48 L560.80 77.33 L557.25 75.22 L553.67 73.15 L550.05 71.12 L546.39 69.14 L542.70 67.19 L538.97 65.29 L535.21 63.43 L531.41 61.62 L527.58 59.85 L523.71 58.13 L519.82 56.45 L515.89 54.81 L511.93 53.23 L507.93 51.69 L503.91 50.20 L499.86 48.75 L495.77 47.36 L491.66 46.01 L487.52 44.72 L483.36 43.47 L479.16 42.28 L474.94 41.13 L470.69 40.04 L466.42 39.00 L462.12 38.01 L457.80 37.08 L453.45 36.20 L449.08 35.37 L444.69 34.60 L440.28 33.89 L435.84 33.23 L431.39 32.62 L426.92 32.07 L422.42 31.58 L417.91 31.14 L413.39 30.76 L408.84 30.44 L404.28 30.18 L399.70 29.98 L395.11 29.83 L390.51 29.74 L385.89 29.72 L381.26 29.75 L376.62 29.84 L371.97 30.00 L367.31 30.21 L362.64 30.49 L357.96 30.82 L353.27 31.22"/>
<path d="M477.59 245.57 L476.28 245.23 L474.96 244.91 L473.64 244.60 L472.32 244.30 L470.99 244.00 L469.66 243.72 L468.32 243.45 L466.98 243.20 L465.63 242.95 L464.28 242.71 L462.93 242.49 L461.57 242.27 L460.21 242.07 L458.85 241.87 L457.48 241.69 L456.10 241.52 L454.73 241.36 L453.34 241.21 L451.96 241.08 L450.57 240.95 L449.18 240.84 L447.78 240.73 L446.39 240.64 L444.98 240.56 L443.58 240.49 L442.17 240.44 L440.76 240.39 L439.34 240.36 L437.92 240.34 L436.50 240.33 L435.08 240.33 L433.65 240.34 L432.22 240.37 L430.79 240.41 L429.35 240.46 L427.91 240.52 L426.47 240.60 L425.03 240.69 L423.58 240.78 L422.13 240.90 L420.68 241.02 L419.23 241.16 L417.77 241.31 L416.32 241.47 L414.86 241.64 L413.39 241.83 L411.93 242.03 L410.46 242.24 L408.99 242.47 L407.52 242.71 L406.05 242.96 L404.58 243.23 L403.10 243.50 L401.63 243.80 L400.15 244.10 L398.67 244.42 L397.19 244.75 L395.71 245.09 L394.22 245.45"/>
<path d="M351.60 214.70 L354.50 213.45 Q357.40 212.20 364.23 210.65 L387.07 205.45 Q393.90 203.90 400.90 203.69 L423.30 203.01 Q430.30 202.80 437.20 203.99 L457.60 207.51 Q464.50 208.70 471.03 211.22 L488.77 218.08 Q495.30 220.60 501.27 224.26 L515.93 233.24 Q521.90 236.90 527.83 240.62 L534.00 244.50" stroke-linejoin="round"/>
<path d="M593.41 223.51 L591.06 220.23 L588.63 216.98 L586.13 213.76 L583.55 210.58 L580.90 207.44 L578.18 204.34 L575.38 201.27 L572.51 198.25 L569.57 195.27 L566.55 192.34 L563.47 189.46 L560.31 186.62 L557.09 183.83 L553.79 181.10 L550.43 178.42 L547.00 175.79 L543.50 173.22 L539.94 170.70 L536.31 168.25 L532.62 165.86 L528.86 163.53 L525.05 161.26 L521.17 159.06 L517.23 156.93 L513.23 154.86 L509.18 152.87 L505.06 150.94 L500.90 149.09 L496.67 147.32 L492.40 145.62 L488.07 143.99 L483.70 142.45 L479.27 140.98 L474.80 139.60 L470.28 138.29 L465.71 137.08 L461.10 135.94 L456.45 134.89 L451.76 133.93 L447.04 133.06 L442.27 132.28 L437.47 131.58 L432.63 130.98 L427.77 130.47 L422.87 130.06 L417.94 129.74 L412.99 129.51 L408.01 129.38 L403.01 129.35 L397.99 129.42 L392.95 129.59 L387.89 129.85 L382.81 130.22 L377.72 130.69 L372.62 131.26 L367.51 131.93 L362.40 132.71 L357.27 133.59 L352.15 134.57"/>
<path d="M451.40 101.30 L571.80 153.45"/>
</g>
<line x1="451.60" y1="149.30" x2="474.10" y2="144.60" stroke="#f00" stroke-width="1.1"/>
<line x1="474.10" y1="144.60" x2="470.99" y2="143.83" stroke="#f00" stroke-width="1.1"/>
<line x1="474.10" y1="144.60" x2="471.56" y2="146.55" stroke="#f00" stroke-width="1.1"/>
<g fill="#000">
<circle cx="447.60" cy="44.90" r="2.65"/>
<circle cx="164.65" cy="45.29" r="1.75"/>
<circle cx="448.90" cy="47.70" r="2.65"/>
<circle cx="164.99" cy="46.03" r="1.75"/>
<circle cx="467.80" cy="52.00" r="2.65"/>
<circle cx="169.98" cy="47.18" r="1.75"/>
<circle cx="447.20" cy="60.80" r="2.65"/>
<circle cx="164.54" cy="49.51" r="1.75"/>
<circle cx="448.40" cy="63.60" r="2.65"/>
<circle cx="164.86" cy="50.26" r="1.75"/>
<circle cx="416.90" cy="77.70" r="2.65"/>
<circle cx="156.53" cy="54.00" r="1.75"/>
<circle cx="428.00" cy="91.10" r="2.65"/>
<circle cx="159.47" cy="57.56" r="1.75"/>
<circle cx="452.50" cy="98.20" r="2.65"/>
<circle cx="165.94" cy="59.44" r="1.75"/>
<circle cx="461.20" cy="102.60" r="2.65"/>
<circle cx="168.24" cy="60.61" r="1.75"/>
<circle cx="502.10" cy="66.90" r="2.65"/>
<circle cx="179.05" cy="51.13" r="1.75"/>
<circle cx="531.50" cy="61.80" r="2.65"/>
<circle cx="186.82" cy="49.78" r="1.75"/>
<circle cx="515.10" cy="73.90" r="2.65"/>
<circle cx="182.49" cy="52.99" r="1.75"/>
<circle cx="534.70" cy="79.30" r="2.65"/>
<circle cx="187.67" cy="54.42" r="1.75"/>
<circle cx="553.40" cy="101.70" r="2.65"/>
<circle cx="192.61" cy="60.37" r="1.75"/>
<circle cx="482.80" cy="94.60" r="2.65"/>
<circle cx="173.95" cy="58.49" r="1.75"/>
<circle cx="479.00" cy="101.80" r="2.65"/>
<circle cx="172.94" cy="60.40" r="1.75"/>
<circle cx="481.10" cy="102.10" r="2.65"/>
<circle cx="173.50" cy="60.48" r="1.75"/>
<circle cx="465.10" cy="120.10" r="2.65"/>
<circle cx="169.27" cy="65.26" r="1.75"/>
<circle cx="497.90" cy="114.90" r="2.65"/>
<circle cx="177.94" cy="63.88" r="1.75"/>
<circle cx="499.60" cy="116.60" r="2.65"/>
<circle cx="178.39" cy="64.33" r="1.75"/>
<circle cx="503.80" cy="116.20" r="2.65"/>
<circle cx="179.50" cy="64.22" r="1.75"/>
<circle cx="508.00" cy="120.00" r="2.65"/>
<circle cx="180.61" cy="65.23" r="1.75"/>
<circle cx="560.10" cy="129.30" r="2.65"/>
<circle cx="194.38" cy="67.70" r="1.75"/>
<circle cx="530.60" cy="136.30" r="2.65"/>
<circle cx="186.58" cy="69.56" r="1.75"/>
<circle cx="573.70" cy="138.60" r="2.65"/>
<circle cx="197.97" cy="70.17" r="1.75"/>
<circle cx="516.20" cy="143.20" r="2.65"/>
<circle cx="182.78" cy="71.39" r="1.75"/>
<circle cx="467.00" cy="142.90" r="2.65"/>
<circle cx="169.77" cy="71.31" r="1.75"/>
<circle cx="462.20" cy="149.40" r="2.65"/>
<circle cx="168.50" cy="73.04" r="1.75"/>
<circle cx="474.30" cy="168.70" r="2.65"/>
<circle cx="171.70" cy="78.16" r="1.75"/>
<circle cx="474.30" cy="180.40" r="2.65"/>
<circle cx="171.70" cy="81.27" r="1.75"/>
<circle cx="497.80" cy="165.10" r="2.65"/>
<circle cx="177.91" cy="77.20" r="1.75"/>
<circle cx="517.00" cy="192.40" r="2.65"/>
<circle cx="182.99" cy="84.45" r="1.75"/>
<circle cx="498.20" cy="200.60" r="2.65"/>
<circle cx="178.02" cy="86.63" r="1.75"/>
<circle cx="556.20" cy="185.40" r="2.65"/>
<circle cx="193.35" cy="82.59" r="1.75"/>
<circle cx="575.50" cy="212.50" r="2.65"/>
<circle cx="198.45" cy="89.79" r="1.75"/>
<circle cx="586.40" cy="218.60" r="2.65"/>
<circle cx="201.33" cy="91.41" r="1.75"/>
<circle cx="514.00" cy="240.00" r="2.65"/>
<circle cx="182.20" cy="97.09" r="1.75"/>
<circle cx="154.90" cy="21.00" r="1.75"/>
<circle cx="202.20" cy="27.30" r="1.75"/>
<circle cx="241.90" cy="81.80" r="1.75"/>
<circle cx="174.70" cy="104.40" r="1.75"/>
<circle cx="186.70" cy="107.10" r="1.75"/>
<circle cx="198.00" cy="121.10" r="1.75"/>
</g>
<circle cx="167.50" cy="62.50" r="3.35" fill="#fff"/>
<circle cx="167.50" cy="62.50" r="3.25" fill="#fff" stroke="#000" stroke-width="1.50"/>
<circle cx="167.50" cy="62.50" r="1.50" fill="#000"/>
<circle cx="457.60" cy="109.35" r="8.00" fill="#fff"/>
<circle cx="457.60" cy="109.35" r="7.10" fill="#fff" stroke="#000" stroke-width="1.60"/>
<circle cx="457.60" cy="109.35" r="3.50" fill="#000"/>
<circle cx="167.50" cy="133.12" r="2.50" fill="#fff" stroke="#000" stroke-width="1.3"/>
<circle cx="451.60" cy="149.30" r="5.40" fill="#f00"/>
<circle cx="450.00" cy="165.10" r="5.40" fill="#00f"/>
<circle cx="166.1" cy="72.2" r="3.30" fill="#f00"/>
<circle cx="163.8" cy="79.25" r="3.30" fill="#00f"/>
<g stroke="#000" stroke-width="1.3" fill="none" stroke-linecap="butt">
<rect x="43.00" y="0.80" width="248.40" height="247.95"/>
<rect x="349.50" y="0.80" width="248.70" height="248.40"/>
<rect x="138.73" y="33.58" width="65.76" height="65.76"/>
<line x1="204.49" y1="33.58" x2="349.50" y2="0.80"/>
<line x1="204.49" y1="99.34" x2="349.50" y2="249.20"/>
<line x1="85.30" y1="248.75" x2="85.30" y2="242.35"/>
<line x1="85.30" y1="0.80" x2="85.30" y2="7.20"/>
<line x1="126.40" y1="248.75" x2="126.40" y2="245.55"/>
<line x1="126.40" y1="0.80" x2="126.40" y2="4.00"/>
<line x1="167.50" y1="248.75" x2="167.50" y2="242.35"/>
<line x1="167.50" y1="0.80" x2="167.50" y2="7.20"/>
<line x1="208.60" y1="248.75" x2="208.60" y2="245.55"/>
<line x1="208.60" y1="0.80" x2="208.60" y2="4.00"/>
<line x1="249.70" y1="248.75" x2="249.70" y2="242.35"/>
<line x1="249.70" y1="0.80" x2="249.70" y2="7.20"/>
<line x1="43.00" y1="226.75" x2="49.40" y2="226.75"/>
<line x1="291.40" y1="226.75" x2="285.00" y2="226.75"/>
<line x1="43.00" y1="185.65" x2="46.20" y2="185.65"/>
<line x1="291.40" y1="185.65" x2="288.20" y2="185.65"/>
<line x1="43.00" y1="144.55" x2="49.40" y2="144.55"/>
<line x1="291.40" y1="144.55" x2="285.00" y2="144.55"/>
<line x1="43.00" y1="103.45" x2="46.20" y2="103.45"/>
<line x1="291.40" y1="103.45" x2="288.20" y2="103.45"/>
<line x1="43.00" y1="62.35" x2="49.40" y2="62.35"/>
<line x1="291.40" y1="62.35" x2="285.00" y2="62.35"/>
<line x1="43.00" y1="21.25" x2="46.20" y2="21.25"/>
<line x1="291.40" y1="21.25" x2="288.20" y2="21.25"/>
<line x1="365.10" y1="249.20" x2="365.10" y2="246.00"/>
<line x1="365.10" y1="0.80" x2="365.10" y2="4.00"/>
<line x1="396.20" y1="249.20" x2="396.20" y2="242.80"/>
<line x1="396.20" y1="0.80" x2="396.20" y2="7.20"/>
<line x1="427.30" y1="249.20" x2="427.30" y2="246.00"/>
<line x1="427.30" y1="0.80" x2="427.30" y2="4.00"/>
<line x1="458.40" y1="249.20" x2="458.40" y2="242.80"/>
<line x1="458.40" y1="0.80" x2="458.40" y2="7.20"/>
<line x1="489.50" y1="249.20" x2="489.50" y2="246.00"/>
<line x1="489.50" y1="0.80" x2="489.50" y2="4.00"/>
<line x1="520.60" y1="249.20" x2="520.60" y2="242.80"/>
<line x1="520.60" y1="0.80" x2="520.60" y2="7.20"/>
<line x1="551.70" y1="249.20" x2="551.70" y2="246.00"/>
<line x1="551.70" y1="0.80" x2="551.70" y2="4.00"/>
<line x1="582.80" y1="249.20" x2="582.80" y2="242.80"/>
<line x1="582.80" y1="0.80" x2="582.80" y2="7.20"/>
<line x1="349.50" y1="233.14" x2="355.90" y2="233.14"/>
<line x1="598.20" y1="233.14" x2="591.80" y2="233.14"/>
<line x1="349.50" y1="202.18" x2="352.70" y2="202.18"/>
<line x1="598.20" y1="202.18" x2="595.00" y2="202.18"/>
<line x1="349.50" y1="171.22" x2="355.90" y2="171.22"/>
<line x1="598.20" y1="171.22" x2="591.80" y2="171.22"/>
<line x1="349.50" y1="140.26" x2="352.70" y2="140.26"/>
<line x1="598.20" y1="140.26" x2="595.00" y2="140.26"/>
<line x1="349.50" y1="109.30" x2="355.90" y2="109.30"/>
<line x1="598.20" y1="109.30" x2="591.80" y2="109.30"/>
<line x1="349.50" y1="78.34" x2="352.70" y2="78.34"/>
<line x1="598.20" y1="78.34" x2="595.00" y2="78.34"/>
<line x1="349.50" y1="47.38" x2="355.90" y2="47.38"/>
<line x1="598.20" y1="47.38" x2="591.80" y2="47.38"/>
<line x1="349.50" y1="16.42" x2="352.70" y2="16.42"/>
<line x1="598.20" y1="16.42" x2="595.00" y2="16.42"/>
</g>
<g font-family="'Liberation Serif', serif" font-size="13.80" fill="#000" stroke="#000" stroke-width="0.08" text-anchor="middle">
<text x="85.60" y="268.00">−10</text>
<text x="167.50" y="268.00">0</text>
<text x="249.70" y="268.00">10</text>
<text x="396.50" y="268.00">−2</text>
<text x="462.00" y="268.00">0</text>
<text x="524.20" y="268.00">2</text>
<text x="586.40" y="268.00">4</text>
<text x="38.50" y="231.65" text-anchor="end">−20</text>
<text x="38.50" y="149.45" text-anchor="end">−10</text>
<text x="38.50" y="67.25" text-anchor="end">0</text>
<text x="344.20" y="238.39" text-anchor="end">−4</text>
<text x="344.20" y="176.47" text-anchor="end">−2</text>
<text x="344.20" y="114.55" text-anchor="end">0</text>
<text x="344.20" y="52.63" text-anchor="end">2</text>
</g>
<g font-family="'Liberation Serif', serif" font-size="13.20" fill="#000" stroke="#000" stroke-width="0.08" text-anchor="middle">
<text x="167.70" y="283.20">X (kpc)</text>
<text x="476.00" y="283.20">X (kpc)</text>
<text transform="translate(12.00 125.70) rotate(-90)">Y (kpc)</text>
<text transform="translate(320.10 125.70) rotate(-90)">Y (kpc)</text>
</g>
</svg>
</body></html>
